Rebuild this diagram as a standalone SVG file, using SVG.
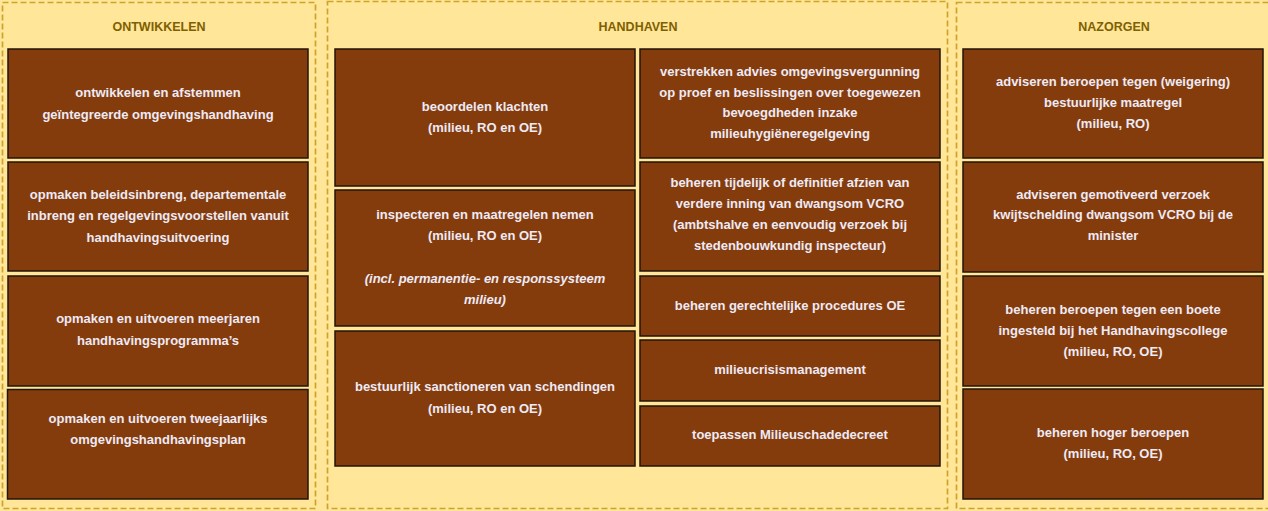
<svg xmlns="http://www.w3.org/2000/svg" width="1268" height="511" viewBox="0 0 1268 511">
<style>
.bg{fill:#FFE699}
.panel{fill:#FFE699;stroke:#CDA32C;stroke-width:1.7;stroke-dasharray:6 3}
.hdr{font-family:"Liberation Sans",Arial,sans-serif;font-weight:bold;font-size:12.5px;fill:#7F6000;text-anchor:middle}
.box{fill:#843C0C;stroke:#22150A;stroke-width:1.5}
.t{font-family:"Liberation Sans",Arial,sans-serif;font-weight:bold;font-size:13px;fill:#EEEAF6;text-anchor:middle}
.it{font-style:italic}
</style>
<rect class="bg" x="0" y="0" width="1268" height="511"/>
<g id="panel-ontwikkelen">
<rect class="panel" x="2.5" y="2.5" width="313" height="506"/>
<text class="hdr" x="159" y="30.5">ONTWIKKELEN</text>
</g>
<g id="panel-handhaven">
<rect class="panel" x="327.5" y="1.5" width="620" height="507"/>
<text class="hdr" x="638" y="30.5">HANDHAVEN</text>
</g>
<g id="panel-nazorgen">
<rect class="panel" x="956.5" y="2.5" width="314" height="506"/>
<text class="hdr" x="1114" y="30.5">NAZORGEN</text>
</g>

<g id="o1"><rect class="box" x="8" y="49" width="300" height="109"/>
<text class="t" x="158" y="97">ontwikkelen en afstemmen</text>
<text class="t" x="158" y="119">geïntegreerde omgevingshandhaving</text></g>
<g id="o2"><rect class="box" x="8" y="162" width="300" height="109"/>
<text class="t" x="158" y="198.5">opmaken beleidsinbreng, departementale</text>
<text class="t" x="158" y="220">inbreng en regelgevingsvoorstellen vanuit</text>
<text class="t" x="158" y="241.5">handhavingsuitvoering</text></g>
<g id="o3"><rect class="box" x="8" y="276" width="300" height="110"/>
<text class="t" x="158" y="323">opmaken en uitvoeren meerjaren</text>
<text class="t" x="158" y="344.5">handhavingsprogramma’s</text></g>
<g id="o4"><rect class="box" x="7.5" y="389.5" width="300.5" height="109.5"/>
<text class="t" x="158" y="423">opmaken en uitvoeren tweejaarlijks</text>
<text class="t" x="158" y="443.5">omgevingshandhavingsplan</text></g>

<g id="h1"><rect class="box" x="335" y="49" width="300" height="137"/>
<text class="t" x="485" y="111">beoordelen klachten</text>
<text class="t" x="485" y="132">(milieu, RO en OE)</text></g>
<g id="h2"><rect class="box" x="335" y="190" width="300" height="136"/>
<text class="t" x="485" y="218.5">inspecteren en maatregelen nemen</text>
<text class="t" x="485" y="239.5">(milieu, RO en OE)</text>
<text class="t it" x="485" y="282.5">(incl. permanentie- en responssysteem</text>
<text class="t it" x="485" y="304">milieu)</text></g>
<g id="h3"><rect class="box" x="335" y="331" width="300" height="135"/>
<text class="t" x="485" y="391">bestuurlijk sanctioneren van schendingen</text>
<text class="t" x="485" y="412.5">(milieu, RO en OE)</text></g>

<g id="h4"><rect class="box" x="640" y="49" width="300" height="109"/>
<text class="t" x="790" y="75.5">verstrekken advies omgevingsvergunning</text>
<text class="t" x="790" y="96.5">op proef en beslissingen over toegewezen</text>
<text class="t" x="790" y="117">bevoegdheden inzake</text>
<text class="t" x="790" y="138">milieuhygiëneregelgeving</text></g>
<g id="h5"><rect class="box" x="640" y="162" width="300" height="109"/>
<text class="t" x="790" y="187">beheren tijdelijk of definitief afzien van</text>
<text class="t" x="790" y="208">verdere inning van dwangsom VCRO</text>
<text class="t" x="790" y="228.5">(ambtshalve en eenvoudig verzoek bij</text>
<text class="t" x="790" y="249.5">stedenbouwkundig inspecteur)</text></g>
<g id="h6"><rect class="box" x="640" y="276" width="300" height="60"/>
<text class="t" x="790" y="309.5">beheren gerechtelijke procedures OE</text></g>
<g id="h7"><rect class="box" x="640" y="340" width="300" height="61"/>
<text class="t" x="790" y="373.5">milieucrisismanagement</text></g>
<g id="h8"><rect class="box" x="640" y="406" width="300" height="60"/>
<text class="t" x="790" y="439">toepassen Milieuschadedecreet</text></g>

<g id="n1"><rect class="box" x="963" y="49" width="300" height="109"/>
<text class="t" x="1113" y="86">adviseren beroepen tegen (weigering)</text>
<text class="t" x="1113" y="107">bestuurlijke maatregel</text>
<text class="t" x="1113" y="128">(milieu, RO)</text></g>
<g id="n2"><rect class="box" x="963" y="162" width="300" height="110"/>
<text class="t" x="1113" y="198.5">adviseren gemotiveerd verzoek</text>
<text class="t" x="1113" y="219">kwijtschelding dwangsom VCRO bij de</text>
<text class="t" x="1113" y="240">minister</text></g>
<g id="n3"><rect class="box" x="963" y="276" width="300" height="110"/>
<text class="t" x="1113" y="314">beheren beroepen tegen een boete</text>
<text class="t" x="1113" y="334.5">ingesteld bij het Handhavingscollege</text>
<text class="t" x="1113" y="355.5">(milieu, RO, OE)</text></g>
<g id="n4"><rect class="box" x="963" y="389" width="300" height="110"/>
<text class="t" x="1113" y="437">beheren hoger beroepen</text>
<text class="t" x="1113" y="457.5">(milieu, RO, OE)</text></g>
<g id="connectors"/>
</svg>
